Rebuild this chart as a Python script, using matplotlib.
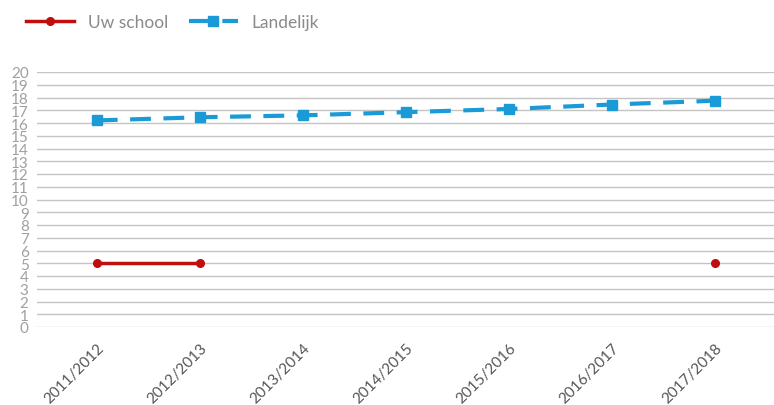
import numpy as np
import matplotlib.pyplot as plt

plt.rcParams['font.family'] = ['Lato', 'DejaVu Sans']

years = ['2011/2012', '2012/2013', '2013/2014', '2014/2015',
         '2015/2016', '2016/2017', '2017/2018']
uw_school = [5, 5, np.nan, np.nan, np.nan, np.nan, 5]
landelijk = [16.2, 16.45, 16.6, 16.85, 17.1, 17.45, 17.75]

red = '#c00d0d'
blue = '#1a9bd7'

fig = plt.figure(figsize=(7.74, 4.06), dpi=100)
ax = fig.add_axes([37 / 774, 1 - 328 / 406, 1 - 37 / 774, 255 / 406])

x = np.arange(len(years))
ax.plot(x, uw_school, color=red, linewidth=2.5, marker='o', markersize=5.5,
        label='Uw school')
ax.plot(x, landelijk, color=blue, linewidth=3, linestyle=(0, (5, 3)),
        marker='s', markersize=6.5, label='Landelijk')

ax.set_ylim(0, 20)
ax.set_xlim(-0.58, 6.57)
ax.set_yticks(range(0, 21))
ax.set_xticks(x)
ax.set_xticklabels(years, rotation=45, ha='right', rotation_mode='anchor',
                   color='#555555', fontsize=11)
ax.tick_params(axis='y', colors='#a0a0a0', labelsize=11, length=0, pad=6)
ax.tick_params(axis='x', length=0, pad=10)
ax.grid(axis='y', color='#c4c4c4', linewidth=1)
ax.set_axisbelow(True)
for s in ax.spines.values():
    s.set_visible(False)

leg = fig.legend(loc='center left', bbox_to_anchor=(0.033, 0.943), ncol=2,
                 frameon=False, fontsize=12.5, handlelength=2.8,
                 handletextpad=0.8, columnspacing=1.2, labelcolor='#8a8a8a',
                 borderaxespad=0, borderpad=0)

fig.savefig('out.png', dpi=100)
